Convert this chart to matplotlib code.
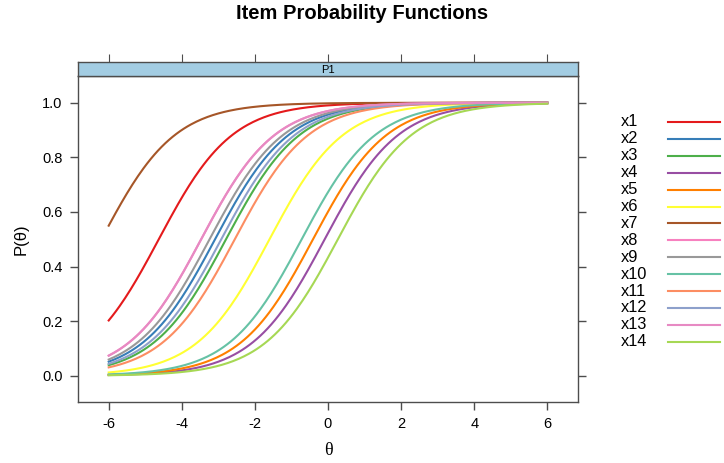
import numpy as np
import matplotlib
matplotlib.use("Agg")
import matplotlib.pyplot as plt
from matplotlib.lines import Line2D

# Item parameters (slope a, location b); all slopes look like 1
items = ["x1", "x2", "x3", "x4", "x5", "x6", "x7",
         "x8", "x9", "x10", "x11", "x12", "x13", "x14"]
slope_a = [1.0, 1.0, 1.0, 1.0, 1.0, 1.0, 1.0,
           1.0, 1.0, 1.0, 1.0, 1.0, 1.0, 1.0]
loc_b = [-4.63, -3.09, -2.79, -0.09, -0.41, -1.60, -6.20,
         -3.47, -3.24, -0.72, -2.55, -2.92, -3.47, 0.27]
colors = ["#E41A1C", "#377EB8", "#4DAF4A", "#984EA3", "#FF7F00", "#FFFF33",
          "#A65628", "#F781BF", "#999999", "#66C2A5", "#FC8D62", "#8DA0CB",
          "#E78AC3", "#A6D854"]
x_ticks = [-6, -4, -2, 0, 2, 4, 6]
y_ticks = [0.0, 0.2, 0.4, 0.6, 0.8, 1.0]
theta = np.linspace(-6, 6, 241)

plt.rcParams['font.family'] = ['Liberation Sans', 'DejaVu Sans']
FRAME = '#4d4d4d'

fig = plt.figure(figsize=(7.24, 4.63), dpi=100)
W, H = 724, 463
left, right, bottom, top = 78, 578, 402, 76
strip_h = 14

ax = fig.add_axes([left / W, 1 - bottom / H, (right - left) / W, (bottom - top) / H])
strip = fig.add_axes([left / W, 1 - top / H, (right - left) / W, strip_h / H])

for name, a, b, c in zip(items, slope_a, loc_b, colors):
    p = 1.0 / (1.0 + np.exp(-a * (theta - b)))
    ax.plot(theta, p, color=c, lw=1.5)

ax.set_xlim(-6.84, 6.84)
ax.set_ylim(-0.096, 1.098)
ax.set_xticks(x_ticks)
ax.set_xticklabels([str(t) for t in x_ticks])
ax.set_yticks(y_ticks)
ax.set_yticklabels([f"{t:.1f}" for t in y_ticks])
ax.tick_params(axis='both', direction='out', length=6, color=FRAME,
               labelsize=10.5, pad=5, width=1)
ax.tick_params(axis='y', right=True, labelright=False)
for s in ax.spines.values():
    s.set_color(FRAME)
    s.set_linewidth(1)
ax.set_xlabel("θ", family=['Liberation Serif', 'DejaVu Serif'], fontsize=13, labelpad=8)
ax.set_ylabel("P(θ)", fontsize=12, labelpad=10)

strip.set_facecolor('#A3CDE3')
strip.set_xlim(ax.get_xlim())
strip.set_ylim(0, 1)
strip.set_xticks(x_ticks)
strip.set_yticks([])
strip.tick_params(axis='x', top=True, bottom=False, labeltop=False, labelbottom=False,
                  direction='out', length=6, color=FRAME)
for s in strip.spines.values():
    s.set_color(FRAME)
    s.set_linewidth(1)
strip.text(0.5, 0.45, "P1", ha='center', va='center', fontsize=8,
           transform=strip.transAxes)

fig.text(362 / W, 1 - 19 / H, "Item Probability Functions", ha='center', va='baseline',
         fontsize=14.5, fontweight='bold')

# legend on the right, text then line
y0, dy = 122, 16.9
for i, (name, c) in enumerate(zip(items, colors)):
    yy = 1 - (y0 + i * dy) / H
    fig.text(621 / W, yy, name, ha='left', va='center', fontsize=11.8)
    fig.add_artist(Line2D([668 / W, 720 / W], [yy, yy], color=c, lw=1.5,
                          transform=fig.transFigure))

fig.savefig("out.png", dpi=100)
